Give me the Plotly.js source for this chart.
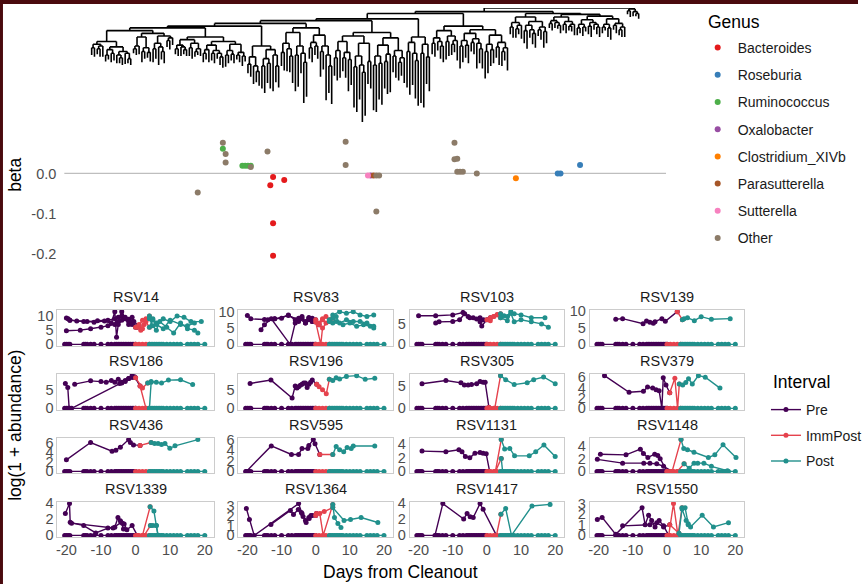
<!DOCTYPE html>
<html><head><meta charset="utf-8">
<script src="https://cdn.plot.ly/plotly-3.0.1.min.js"></script>
<style>html,body{margin:0;padding:0;background:#fff}#plot{width:867px;height:584px}</style>
</head><body><div id="plot"></div>
<script>
const W = 867, H = 584;

// ---------------- Tree (Newick clades, branch lengths) ----------------
const cladeA = "(((:8,:10):4,((:6,:9):3,:12):2):3,(((:7,:5):6,(:10,:8):4):3,((:9,(:6,:8):3):4,(:12,(:5,:7):6):2):5):6)";
const cladeB = "((((:5,:7):3,:9):10,((:12,:8):4,(:6,:10):5):12):4,(((:15,:11):6,(:20,(:9,:13):5):4):8,((:7,:10):3,:8):2):3)";
const cladeC = "((((:6,:8):4,(:10,(:5,:7):3):2):6,((:9,:12):5,((:6,:4):3,:8):6):4):3,((((:10,:7):4,:14):5,((:8,:11):3,(:6,(:9,:12):4):3):6):4,(((:13,:9):5,(:7,:10):4):7,((:5,:8):3,(:11,:6):4):9):3):5)";
const cladeD = "(((:10,:14):8,(:20,(:12,:16):6):10):12,(((:25,:30):8,(:22,:28):5):10,(:40,(:18,:24):12):6):4)";
const cladeE = "((((:15,:20):10,(:25,(:18,:30):8):6):12,((:40,:35):10,(:22,(:45,:38):10):8):15):5,(((:12,:16):6,(:10,:14):4):8,((:28,:20):6,(:50,(:30,:42):12):10):12):8)";
const cladeF = "(((((:20,:25):8,:30):10,((:15,:22):6,(:35,:28):8):12):6,(((:45,:50):12,(:38,(:55,:48):8):10):14,(:25,:30):20):8):4,((((:50,:52):10,(:40,:46):8):12,((:30,:36):8,:42):10):8,((:18,:24):6,((:20,:15):5,:28):8):14):6)";
const cladeG = "(((:40,:48):10,(:35,(:42,:50):8):12):6,((:55,:60):10,(:30,:38):14):8)";
const cladeH = "((((:12,:15):6,(:10,(:14,:18):5):4):8,((:20,:16):6,((:12,:9):4,:22):5):6):5,((((:25,:18):6,(:14,:20):5):8,((:10,:13):4,(:28,(:16,:22):6):5):6):4,(((:30,:24):8,(:18,:15):6):10,((:12,:20):5,((:16,:10):4,:25):6):8):6):4)";
const cladeI = "(((:8,:12):5,((:10,:6):4,:15):3):6,(((:14,:20):6,(:9,(:12,:16):4):5):4,((:7,:11):3,(:18,:13):5):6):5)";
const cladeJ = "((((:5,:8):3,(:6,(:4,:9):3):2):4,((:7,:10):3,((:5,:6):2,:12):3):5):3,((((:8,:6):4,(:10,:5):3):5,((:9,:12):4,(:6,(:8,:11):3):2):3):4,(((:7,:4):3,(:10,:13):4):6,((:5,:9):2,((:6,:8):3,:11):4):5):3):2)";
const cladeK = "((:4,:7):2,(:5,(:3,:6):2):3)";
const TREE_NEWICK = "(((((((((" + cladeA + ":12," + cladeB + ":3):3," + cladeC + ":10):2," + cladeD + ":22):3," +
  cladeE + ":5):3," + cladeF + ":13):2," + cladeG + ":20):6," + cladeH + ":14):2,(" + cladeI + ":4," + cladeJ + ":1):2):4," + cladeK + ":1);";

// ---------------- Beta per tip ----------------
const GENUS = ["Bacteroides","Roseburia","Ruminococcus","Oxalobacter","Clostridium_XIVb","Parasutterella","Sutterella","Other"];
const GENUS_COLORS = ["#E41A1C","#377EB8","#4DAF4A","#984EA3","#FF7F00","#A65628","#F781BF","#8C7B68"];
const beta_tip = [38,47,47,48,48,54,55,56,57,57,63,65,64,69,65,65,91,91,99,100,101,102,103,102,130,130,131,131,132,133,138,152,167,168,175];
const beta_val = [-0.047,0.076,0.061,0.048,0.027,0.019,0.019,0.019,0.019,0.016,0.054,-0.009,-0.029,-0.016,-0.123,-0.203,0.078,0.021,-0.005,-0.005,-0.005,-0.005,-0.005,-0.094,0.076,0.035,0.036,0.004,0.004,0.004,0.0,-0.012,0.0,0.0,0.021];
const beta_genus = ["Other","Other","Ruminococcus","Other","Other","Ruminococcus","Ruminococcus","Ruminococcus","Ruminococcus","Other","Other","Bacteroides","Bacteroides","Bacteroides","Bacteroides","Bacteroides","Other","Other","Sutterella","Oxalobacter","Parasutterella","Other","Other","Other","Other","Other","Other","Other","Other","Other","Other","Clostridium_XIVb","Roseburia","Roseburia","Roseburia"];

// ---------------- Facet time series ----------------
const PANELS = ["RSV14","RSV83","RSV103","RSV139","RSV186","RSV196","RSV305","RSV379","RSV436","RSV595","RSV1131","RSV1148","RSV1339","RSV1364","RSV1417","RSV1550"];
const INTERVALS = ["Pre","ImmPost","Post"];
const INTERVAL_COLORS = ["#440154","#E5424D","#21908C"];
const ZERO_DAYS = [-20.5,-20,-19.5,-19,-15,-14.5,-14,-13,-12,-10,-8,-7,-6,-5.5,-5,-4.5,-4,-3.5,-3,-2.5,-2,-1.5,-1,-0.5,0,1,2,3,4,4.5,5,5.5,6,6.5,7,7.5,8,9,10,11,12,13,15,16,17,18,20];

const rsv14_days = [[-20,-19.5,-19,-17,-14,-11,-8,-6,-5,-4,-3,-2,-1,-0.5,1,2,3,4,5,6,8,10,12,14,16,19],
  [-20,-16,-13,-10,-8,-6,-5,-4,-3,-2,-1,0.5,1.5,2.5,4,5,6,7,9,11,13,15,17,18],
  [-19,-15,-12,-9,-7,-6,-5.5,-5,-4,-3,-2,-1,0,1,2,3,4,5,6,8,10,13,15,17]];
const rsv14_vals = [[9.3,9,8.5,8.2,8,8.3,8.5,9,9.5,10,9,8.8,9.5,8,6.5,8.5,9,10,8.5,7.5,9,8,10,9.5,8,8],
  [4.8,5,5.5,6,6.5,7,8,11.5,9,7,8,6,5,7,9,6.5,5,8,6,4,7.5,5.5,5,4],
  [8.5,8,7.8,8.2,7.5,11.5,2.5,7,8.5,9.5,8,7,6,7,5.5,8,6,9,7,5.5,8.5,7,6.5,7.5]];
const rsv83_days = [[-20,-19,-15,-12,-8,-5,-4,-3,-2,-1,0,1,2,3,4,5,7,9,11,13,15,17],
  [-16,-15,-13,-7.5,-6,-5,-4,-3,-2,-1,0,1.5,2,4,5,6,8,10,12,14,16,17],
  [-14,-12,-10,-8,-6,-5,-3,-2,-1,1,2,3,5,6,7,9,11,13,15,17]];
const rsv83_vals = [[8.8,7.8,7.6,7.8,8.8,7.5,8,7,8.2,7,7.5,6.5,7.8,8.5,7,9,10,9.5,10,9,8.5,9],
  [4.5,6,7.8,0,6.5,7,8.5,6.5,7.5,8,6.8,0,5,7.5,6.5,7,6,6.5,5.5,6,5.5,5],
  [7.5,7.8,8,9,7.5,8,6.5,8,7,6,7.5,6.5,8,8.5,6.5,7.5,7,7,6.5,5.5]];
const rsv103_days = [[-20,-15,-10,-7,-5.5,-4,-2,-1,1,2,3,4,5,6,7,8,10,13,17],
  [-15,-14,-10,-8,-6.5,-5,-3,-2,-1.5,0,1,2,3,4,6,7,8,10,13,16,18]];
const rsv103_vals = [[7,7,7.2,7.8,6.8,6.5,6.5,6,6.5,6.8,7.3,7.5,7,6.8,8,7.5,7.2,6.5,6.5],
  [5.2,5.5,5.6,6,7.5,6.5,6.2,5.5,4.5,6,5.8,6.8,7.2,6.5,5.8,7.6,5.5,6,5.5,5,4.2]];
const rsv139_days = [[-15,-13,-7,-6,-5,-4,-3.5,-1.5,-0.5,3,4.5,5,6,8,10,13,18.5]];
const rsv139_vals = [[7.5,7.7,6.2,7,6.6,6.3,6.8,7.7,6.9,9.8,7.4,7.7,8,7.1,8.3,7.5,7.7]];
const rsv186_days = [[-20.3,-19.6,-19.2],
  [-18.5,-4.6,-4,-3,-2,-1,-0.3,1.3,3,4,4.5],
  [-17.6,-13,-10,-8.5,-7,-6,-5,-4,-3,-2,-1,0,2,3.5,4.5,6,7.5,9.5,13,16.5]];
const rsv186_vals = [[6.7,5.6,0],
  [0,6.7,7,7.5,8,8.3,8.5,6,0,0,7],
  [6.5,7.4,7.2,7,7.5,7,7.8,6.8,7.2,8,8.8,8.2,5.5,6.8,7.2,7,6.8,7.6,7.7,6.4]];
const rsv196_days = [[-19.2,-13.1,-6.9,-6,-5,-4,-3,-2,-1,0.3,1,2,3.1,4,5,6,7,9,12,14.5,17.3],
  [-5.5,-4.5,-3.5,-2.5,-1.5]];
const rsv196_vals = [[6.7,7.6,2.8,6,5.8,6.5,6.8,6.5,7.6,6.5,5.8,5,3.9,7.8,7.5,8.2,7.9,8.6,8.8,7.8,8.1],
  [5.5,6.2,6.8,5.6,7]];
const rsv305_days = [[-19,-12,-7.6,-6.6,-5.5,-4.5,-3,-2,-1.1,-0.5,0.6,2.3,4,5.5,8,11.8,13.7,16.6,20]];
const rsv305_vals = [[5.5,6.2,5.7,5.2,5.2,5.3,5.5,6,5.8,5.8,0.2,0,7.3,6.4,5.3,5.7,6.4,7,5.5]];
const rsv379_days = [[-18.3,-11.1,-6.9,-5.7,-4.2,-3.2,-2.3,-1.5,-1.1,-0.3,0.8,2.3,3.1,3.6,4.6,5.5,6.3,7.4,9.2,11.2,15.5]];
const rsv379_vals = [[6.3,3.1,3.3,4.1,3.9,3.6,3.4,0,5.9,4.5,3,5.8,0,4.7,4.5,5,5.7,4.7,6.3,6,3.9]];
const rsv436_days = [[-20,-13,-6.8,-5.7,-4.4,-2,-1.5,-0.6,1.3,4.5,5.5,6.5,7.5,8.5,9.9,11.4,18]];
const rsv436_vals = [[2.4,6,4.2,4.4,5,6.6,6,5.5,5.4,6,5.8,5.8,5.6,5.8,4.8,5.3,6.6]];
const rsv595_days = [[-20.3,-13,-7.1,-5,-4,-2.3,-2,-0.7,-0.2,1.2,5,6,7,8.2,9.2,10.4,11,17.3]];
const rsv595_vals = [[0,4.8,3.2,3.2,4.3,4.3,4.9,6,5.2,3.2,3.2,4.7,4.1,3.7,4.5,4.3,4.8,4.8]];
const rsv1131_days = [[-19,-12,-8.2,-7.3,-6.3,-5,-3.5,-2,-1.1,-0.2,0.8,2.5,4.2,5.2,6.7,8.1,12.4,14.3,16.7,20],
  [2.5,4.2,4.6]];
const rsv1131_vals = [[3,2.9,3.2,2.9,2.2,2,2.7,2.8,2.7,2.6,0,0,4.7,3.3,3.4,2.3,2.3,2.9,3.9,2.2],
  [0,1.9,0]];
const rsv1148_days = [[-19.5,-12,-7.8,-6.9,-5.6,-3.6,-2.7,-2,0,1.5,4.1,4.9,6,7.9,12.1,14,16.4,20.2],
  [-20.4,-13,-6.8,-5,-3,-1,1.5,3,5,6.5,7.9,9,10.8,13,17.7]];
const rsv1148_vals = [[2.7,2.6,3.5,2.8,2.2,2.7,2.5,2,0,0,5,3.6,3.4,3,2.2,2.6,4.2,2.2],
  [1.9,1.3,1.3,1.3,1.2,0.8,0,0,1.2,0.5,1.3,1.3,1.3,0.8,0.1]];
const rsv1339_days = [[-20.3,-19.1,-18.9,-15,-11.5,-8,-6,-5.1,-4.4,-3.8,-3.3,-2.5,-1,0.5,2,4.2,5.3,6,6.5],
  [-18.5,-6.5,-4.2,-3.5],
  [2.5,4.3,5,6,6.5]];
const rsv1339_vals = [[2.7,3.9,1.6,1.2,0.3,0.9,1,2.2,1.8,1.5,1.4,0.7,1.2,0,0,3.5,3,1.2,0],
  [1.5,0.9,1.6,0.8],
  [0,1.2,1.2,1.2,0]];
const rsv1364_days = [[-20.3,-19.4,-18,-5,-4,-3,-2,-1,0,1.2,2.2,5,5.5,6.5,7.4],
  [-13.1,-7.4,-6.5,-5.1,-4.2,-3.7,-2.8,-1.9,-1.4,0.2,2.5,5,8.3,10.2,13.3,18.2]];
const rsv1364_vals = [[2.7,1.6,0,3.2,2.2,1.5,1.8,2,2,2.2,0,3.1,1.8,1.2,0.8],
  [1.1,2.5,2.1,2.6,2.3,1.9,1.3,1.7,2,2.2,2.4,2.8,1.5,1.6,1.8,1.3]];
const rsv1417_days = [[-15.2,-12.9,-6.8,-5.8,-4.9,-4,-2,-1.1,2.8,4.1,5.5,7.2,13.2,18.5]];
const rsv1417_vals = [[0,3.9,2,2.7,2.3,2.2,3.9,3.2,0,2.6,3.3,0,3.6,3.8]];
const rsv1550_days = [[-20.4,-19,-15,-7.3,-6.4,-5.4,-4.5,-3.5,-2.3,-1,0.5,1.9,3.2,4.4,5.3,6.2,6.9,10.3,13.6,18],
  [-13,-5,-3,-1,0.8,3.5,4.4,5.6,6.2]];
const rsv1550_vals = [[1.5,1.7,0.1,2.6,1,1.9,1.4,0.8,1.4,0.9,0,3,0,2.6,2.6,1.1,0.8,1.9,0.8,1.2],
  [0.9,1,1.2,0.8,1,0.2,2.5,1.4,1]];

const PANEL_DAYS = [rsv14_days,rsv83_days,rsv103_days,rsv139_days,rsv186_days,rsv196_days,rsv305_days,rsv379_days,
  rsv436_days,rsv595_days,rsv1131_days,rsv1148_days,rsv1339_days,rsv1364_days,rsv1417_days,rsv1550_days];
const PANEL_VALS = [rsv14_vals,rsv83_vals,rsv103_vals,rsv139_vals,rsv186_vals,rsv196_vals,rsv305_vals,rsv379_vals,
  rsv436_vals,rsv595_vals,rsv1131_vals,rsv1148_vals,rsv1339_vals,rsv1364_vals,rsv1417_vals,rsv1550_vals];
const PANEL_DTICK = [5,5,5,5,5,5,5,2,2,2,2,2,2,1,2,1];
const X_TICKS = [-20,-10,0,10,20];
const X_TICK_TEXT = ["-20","-10","0","10","20"];

// ---------------- Layout geometry (pixels) ----------------
const FONT = "Liberation Sans, Arial, Helvetica, sans-serif";
const COLS_PX = [[58,216],[241,397],[414,570],[596,752]];
const ROWS_PX = [[310,346],[374,410],[438,473],[502,537]];
const TREE_X_PX = [65,673];
const TREE_Y_PX = [8,122];
const BETA_Y_PX = [136.2,261.3];
const fx = p => p / W;
const fy = p => 1 - p / H;

// ---------------- Tree parsing & layout ----------------
function parseNewick(s) {
  let i = 0;
  function node() {
    const n = {children: [], len: 0};
    if (s[i] === '(') {
      i++;
      n.children.push(node());
      while (s[i] === ',') { i++; n.children.push(node()); }
      i++;
    }
    while (i < s.length && !/[:,();]/.test(s[i])) i++;
    if (s[i] === ':') {
      i++; const j = i;
      while (i < s.length && /[0-9.eE+\-]/.test(s[i])) i++;
      n.len = parseFloat(s.slice(j, i));
    }
    return n;
  }
  return node();
}
const root = parseNewick(TREE_NEWICK);
let tipCount = 0, maxDepth = 0;
(function layout(n, depth) {
  n.depth = depth;
  if (!n.children.length) { n.x = tipCount++; maxDepth = Math.max(maxDepth, depth); return; }
  n.children.forEach(c => layout(c, depth + c.len));
  n.x = (n.children[0].x + n.children[n.children.length - 1].x) / 2;
})(root, 0);
const treeX = [], treeY = [];
(function segs(n) {
  if (n.children.length) {
    const a = n.children[0].x, b = n.children[n.children.length - 1].x;
    treeX.push(a, b, null); treeY.push(n.depth, n.depth, null);
    n.children.forEach(c => {
      treeX.push(c.x, c.x, null); treeY.push(n.depth, c.depth, null);
      segs(c);
    });
  }
})(root);
const tipRange = [-(tipCount - 1) * 0.05, (tipCount - 1) * 1.05];

const traces = [];
traces.push({type: 'scatter', mode: 'lines', x: treeX, y: treeY, xaxis: 'x', yaxis: 'y',
  line: {color: '#000', width: 1.6}, showlegend: false, hoverinfo: 'skip'});

GENUS.forEach((g, gi) => {
  const xs = [], ys = [];
  beta_genus.forEach((bg, k) => { if (bg === g) { xs.push(beta_tip[k]); ys.push(beta_val[k]); } });
  traces.push({type: 'scatter', mode: 'markers', x: xs, y: ys, xaxis: 'x2', yaxis: 'y2', name: g,
    legend: 'legend', legendgroup: 'g' + gi,
    marker: {color: GENUS_COLORS[gi], size: 6}, hoverinfo: 'skip'});
});

function intervalOf(d) { return d < 0 ? 0 : (d <= 3.3 ? 1 : 2); }

const BORDER = '#4A0A0E';
const layout = {
  width: W, height: H, margin: {l: 0, r: 0, t: 0, b: 0},
  paper_bgcolor: '#FFFFFF', plot_bgcolor: 'rgba(0,0,0,0)',
  font: {family: FONT, color: '#000'},
  showlegend: true,
  shapes: [
    {type: 'rect', xref: 'paper', yref: 'paper', x0: 0, x1: 1, y0: fy(4), y1: 1, fillcolor: BORDER, line: {width: 0}, layer: 'below'},
    {type: 'rect', xref: 'paper', yref: 'paper', x0: 0, x1: fx(3), y0: 0, y1: 1, fillcolor: BORDER, line: {width: 0}, layer: 'below'},
    {type: 'line', xref: 'x2 domain', yref: 'y2', x0: 0, x1: 1, y0: 0, y1: 0, line: {color: '#BEBEBE', width: 1.3}, layer: 'below'}
  ],
  annotations: [],
  xaxis: {domain: [fx(TREE_X_PX[0]), fx(TREE_X_PX[1])], range: tipRange, visible: false},
  yaxis: {domain: [fy(TREE_Y_PX[1]), fy(TREE_Y_PX[0])], range: [maxDepth, 0], visible: false},
  xaxis2: {domain: [fx(TREE_X_PX[0]), fx(TREE_X_PX[1])], range: tipRange, visible: false},
  yaxis2: {domain: [fy(BETA_Y_PX[1]), fy(BETA_Y_PX[0])], range: [-0.217, 0.092],
    tickvals: [-0.2, -0.1, 0], ticktext: ['-0.2', '-0.1', '0.0'], showgrid: false, zeroline: false,
    showline: false, ticks: '', ticklabelstandoff: 7, tickfont: {size: 14.5, color: '#4D4D4D'}},
  legend: {x: fx(705), y: fy(32), xanchor: 'left', yanchor: 'top', bgcolor: 'rgba(0,0,0,0)',
    font: {size: 14, color: '#1A1A1A'}, traceorder: 'grouped', tracegroupgap: 6, itemclick: false},
  legend2: {x: fx(774), y: fy(394), xanchor: 'left', yanchor: 'top', bgcolor: 'rgba(0,0,0,0)',
    font: {size: 14, color: '#1A1A1A'}, traceorder: 'grouped', tracegroupgap: 4.5, itemclick: false}
};

PANELS.forEach((name, p) => {
  const r = Math.floor(p / 4), c = p % 4;
  const ax = p + 3;
  const subs = [{d: ZERO_DAYS, v: ZERO_DAYS.map(() => 0)}];
  PANEL_DAYS[p].forEach((dd, s) => subs.push({d: dd, v: PANEL_VALS[p][s]}));
  let ymax = 0;
  subs.forEach(s => s.v.forEach(v => { if (v > ymax) ymax = v; }));
  INTERVALS.forEach((iname, k) => {
    const xs = [], ys = [];
    subs.forEach(s => {
      let open = false;
      for (let i = 0; i < s.d.length; i++) {
        if (intervalOf(s.d[i]) === k) {
          if (!open) { if (xs.length) { xs.push(null); ys.push(null); } open = true; }
          xs.push(s.d[i]); ys.push(s.v[i]);
          if (i + 1 < s.d.length && intervalOf(s.d[i + 1]) !== k) {
            xs.push(s.d[i + 1]); ys.push(s.v[i + 1]); open = false;
          }
        } else open = false;
      }
    });
    traces.push({type: 'scatter', mode: 'lines+markers', x: xs, y: ys,
      xaxis: 'x' + ax, yaxis: 'y' + ax, name: iname,
      legend: 'legend2', legendgroup: 'i' + k, showlegend: p === 0,
      line: {color: INTERVAL_COLORS[k], width: 1.4}, marker: {color: INTERVAL_COLORS[k], size: 5},
      connectgaps: false, hoverinfo: 'skip'});
  });
  layout['xaxis' + ax] = {domain: [fx(COLS_PX[c][0]), fx(COLS_PX[c][1])], range: [-22.6, 22.6],
    tickvals: X_TICKS, ticktext: X_TICK_TEXT, showticklabels: r === 3, ticks: '',
    showgrid: false, zeroline: false, showline: true, mirror: true, linecolor: '#CCCCCC', linewidth: 1,
    tickfont: {size: 14.5, color: '#4D4D4D'}, anchor: 'y' + ax};
  layout['yaxis' + ax] = {domain: [fy(ROWS_PX[r][1]), fy(ROWS_PX[r][0])], range: [-0.05 * ymax, 1.05 * ymax],
    tick0: 0, dtick: PANEL_DTICK[p], ticks: '', showgrid: false, zeroline: false,
    showline: true, mirror: true, linecolor: '#CCCCCC', linewidth: 1,
    tickfont: {size: 14.5, color: '#4D4D4D'}, anchor: 'x' + ax};
  layout.annotations.push({xref: 'paper', yref: 'paper', x: fx((COLS_PX[c][0] + COLS_PX[c][1]) / 2),
    y: fy(ROWS_PX[r][0] - 3), xanchor: 'center', yanchor: 'bottom', showarrow: false,
    text: name, font: {size: 14.5, color: '#1A1A1A'}});
});

layout.annotations.push(
  {xref: 'paper', yref: 'paper', x: fx(405), y: fy(572), xanchor: 'center', yanchor: 'middle', showarrow: false,
    text: 'Days from Cleanout', font: {size: 17.5, color: '#000'}},
  {xref: 'paper', yref: 'paper', x: fx(15), y: fy(425), xanchor: 'center', yanchor: 'middle', showarrow: false,
    text: 'log(1 + abundance)', textangle: -90, font: {size: 17.5, color: '#000'}},
  {xref: 'paper', yref: 'paper', x: fx(15), y: fy(175), xanchor: 'center', yanchor: 'middle', showarrow: false,
    text: 'beta', textangle: -90, font: {size: 17.5, color: '#000'}},
  {xref: 'paper', yref: 'paper', x: fx(713), y: fy(22), xanchor: 'left', yanchor: 'middle', showarrow: false,
    text: 'Genus', font: {size: 17.5, color: '#000'}},
  {xref: 'paper', yref: 'paper', x: fx(779), y: fy(382), xanchor: 'left', yanchor: 'middle', showarrow: false,
    text: 'Interval', font: {size: 17.5, color: '#000'}}
);

Plotly.newPlot('plot', traces, layout, {staticPlot: true, displayModeBar: false});
</script>
</body></html>
